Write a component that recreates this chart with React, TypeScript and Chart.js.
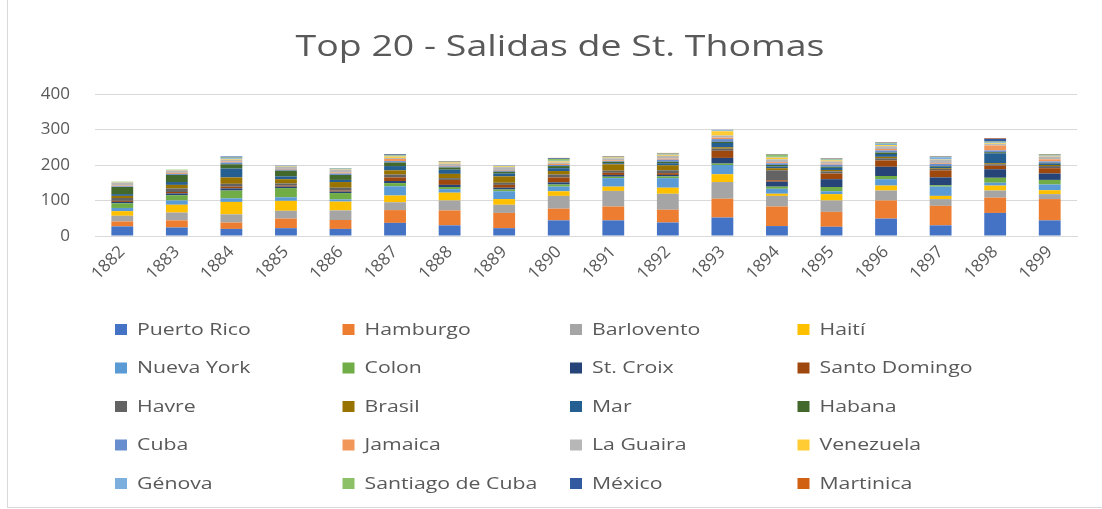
import React, { useEffect, useRef } from "react";
import { Chart, registerables } from "chart.js";

Chart.register(...registerables);

const years = ["1882","1883","1884","1885","1886","1887","1888","1889","1890","1891","1892","1893","1894","1895","1896","1897","1898","1899"];
const yTicks = [0, 100, 200, 300, 400];

const puertoRico    = [27,24,20,22,20,37,30,22,44,44,38,52,28,26,49,30,65,44];
const hamburgo      = [14,20,18,27,25,36,42,43,33,39,36,53,55,42,51,55,43,60];
const barlovento    = [16,22,23,22,27,22,28,23,36,44,45,47,30,32,28,19,20,14];
const haiti         = [13,22,35,28,25,19,22,16,13,12,17,22,6,18,14,9,14,11];
const nuevaYork     = [9,12,10,10,6,26,10,22,13,24,27,26,14,8,18,26,8,16];
const colon         = [13,15,22,26,18,9,6,5,6,4,5,4,6,12,9,4,14,13];
const stCroix       = [4,5,6,4,4,6,6,5,6,5,4,16,14,22,26,22,24,18];
const santoDomingo  = [3,4,5,3,3,10,14,8,14,6,5,20,4,16,18,20,10,15];
const havre         = [8,10,8,6,8,8,5,6,8,6,8,6,28,6,6,4,4,6];
const brasil        = [6,10,18,12,16,12,12,18,10,18,14,4,6,4,4,2,3,3];
const mar           = [5,8,25,8,6,12,12,8,8,3,6,12,5,6,8,4,28,4];
const habana        = [20,20,12,16,14,10,6,5,6,4,4,3,4,3,4,2,3,2];
const cuba          = [2,3,5,3,4,4,3,3,3,2,6,8,5,6,6,6,5,4];
const jamaica       = [2,3,3,2,3,6,2,2,3,2,3,4,3,3,4,2,14,6];
const laGuaira      = [8,6,5,6,8,3,6,8,4,6,8,6,8,6,8,10,4,8];
const venezuela     = [1,1,2,1,1,4,3,2,3,2,3,12,5,3,3,1,2,2];
const genova        = [1,1,2,0,1,2,1,0,2,1,2,2,2,2,4,6,3,2];
const santiagoCuba  = [1,1,2,1,1,2,1,1,5,1,1,1,6,2,2,1,2,1];
const mexico        = [0,0,3,1,1,2,1,1,2,1,1,1,1,1,1,1,8,1];
const martinica     = [0,0,0,0,0,1,1,0,1,1,1,0,1,1,1,1,2,1];

const seriesNames = ["Puerto Rico","Hamburgo","Barlovento","Haití","Nueva York","Colon","St. Croix","Santo Domingo","Havre","Brasil","Mar","Habana","Cuba","Jamaica","La Guaira","Venezuela","Génova","Santiago de Cuba","México","Martinica"];
const seriesValues = [puertoRico,hamburgo,barlovento,haiti,nuevaYork,colon,stCroix,santoDomingo,havre,brasil,mar,habana,cuba,jamaica,laGuaira,venezuela,genova,santiagoCuba,mexico,martinica];
const seriesColors = ["#4472C4","#ED7D31","#A5A5A5","#FFC000","#5B9BD5","#70AD47","#264478","#9E480E","#636363","#997300","#255E91","#43682B","#698ED0","#F1975A","#B7B7B7","#FFCD33","#7CAFDD","#8CC168","#335AA1","#D26012"];

const titleText = "Top 20 - Salidas de St. Thomas";
const TEXT = "#595959";
const FONT = '"Open Sans", "Noto Sans", sans-serif';

function stretchedText(ctx: CanvasRenderingContext2D, text: string, x: number, y: number, sx: number, align: CanvasTextAlign) {
  ctx.save();
  ctx.translate(x, y);
  ctx.scale(sx, 1);
  ctx.textAlign = align;
  ctx.fillText(text, 0, 0);
  ctx.restore();
}

const decorPlugin = {
  id: "decor",
  beforeDraw(chart: any) {
    const ctx = chart.ctx as CanvasRenderingContext2D;
    ctx.save();
    ctx.fillStyle = "#ffffff";
    ctx.fillRect(0, 0, chart.width, chart.height);
    ctx.strokeStyle = "#d9d9d9";
    ctx.lineWidth = 1;
    ctx.strokeRect(7.5, -5, chart.width + 10, 512.5);
    ctx.restore();
  },
  afterDraw(chart: any) {
    const ctx = chart.ctx as CanvasRenderingContext2D;
    ctx.save();
    ctx.fillStyle = TEXT;
    ctx.textBaseline = "middle";
    ctx.font = `30px ${FONT}`;
    stretchedText(ctx, titleText, 560, 47, 1.25, "center");
    ctx.font = `17px ${FONT}`;
    for (let i = 0; i < seriesNames.length; i++) {
      const col = i % 4;
      const row = Math.floor(i / 4);
      const x = 115 + col * 227.5;
      const y = 330 + row * 38.5;
      ctx.fillStyle = seriesColors[i];
      ctx.fillRect(x, y - 6, 12, 11);
      ctx.fillStyle = TEXT;
      stretchedText(ctx, seriesNames[i], x + 22, y, 1.25, "left");
    }
    ctx.restore();
  },
};

export default function App() {
  const ref = useRef<HTMLCanvasElement | null>(null);
  useEffect(() => {
    document.body.style.margin = "0";
    const canvas = ref.current!;
    const chart = new Chart(canvas, {
      type: "bar",
      data: {
        labels: years,
        datasets: seriesNames.map((name, i) => ({
          label: name,
          data: seriesValues[i],
          backgroundColor: seriesColors[i],
          borderWidth: 0,
          barPercentage: 0.4,
          categoryPercentage: 1,
        })),
      },
      options: {
        animation: false,
        responsive: false,
        maintainAspectRatio: false,
        layout: { padding: { top: 94, left: 0, right: 25, bottom: 0 } },
        plugins: {
          legend: { display: false },
          title: { display: false },
          tooltip: { enabled: false },
        },
        scales: {
          x: {
            stacked: true,
            grid: { display: false, drawTicks: false },
            border: { display: true, color: "#d9d9d9" },
            ticks: {
              color: TEXT,
              font: { size: 17, family: FONT },
              maxRotation: 45,
              minRotation: 45,
              padding: 6,
              autoSkip: false,
            },
            afterFit: (s: any) => { s.height = 509 - 236 - 94 + 94 - 0 - 0; s.height = 273; },
          },
          y: {
            stacked: true,
            min: 0,
            max: 400,
            afterBuildTicks: (s: any) => { s.ticks = yTicks.map((v) => ({ value: v })); },
            grid: { color: "#d9d9d9", drawTicks: false },
            border: { display: false },
            ticks: {
              color: TEXT,
              font: { size: 17, family: FONT },
              padding: 25,
            },
            afterFit: (s: any) => { s.width = 95; },
          },
        },
      },
      plugins: [decorPlugin],
    });
    return () => chart.destroy();
  }, []);
  return (
    <div style={{ width: 1102, height: 509 }}>
      <canvas ref={ref} width={1102} height={509} style={{ display: "block" }} />
    </div>
  );
}
